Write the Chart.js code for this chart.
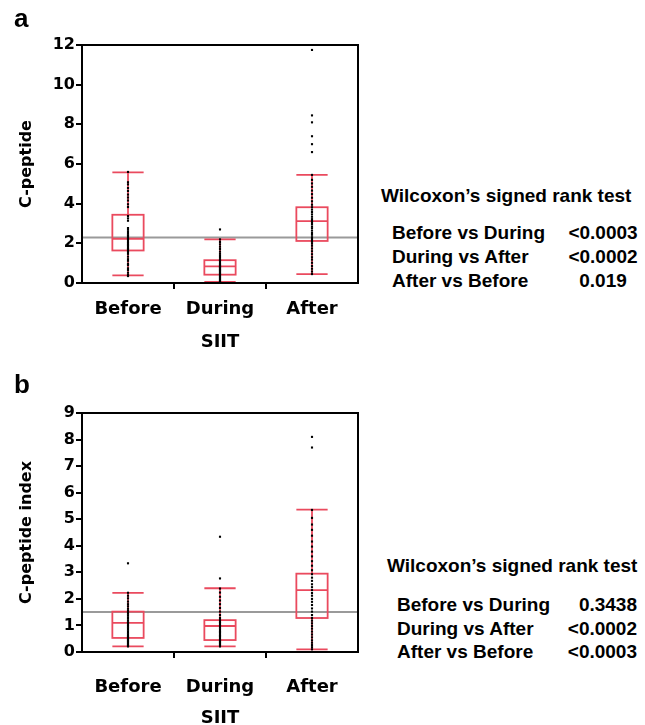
<!DOCTYPE html>
<html>
<head>
<meta charset="utf-8">
<script src="https://cdn.jsdelivr.net/npm/chart.js@4/dist/chart.umd.min.js"></script>
<style>
  body { margin: 0; background: #fff; width: 645px; height: 725px; position: relative; overflow: hidden; }
  canvas { position: absolute; left: 0; }
  .txt { position: absolute; font-family: "Liberation Sans", Arial, sans-serif; font-weight: bold; color: #000; line-height: 1; white-space: nowrap; }
  .panel { font-size: 26px; }
  .st { font-size: 19px; }
</style>
</head>
<body>
<canvas id="chartA" width="362" height="360" style="top:0"></canvas>
<canvas id="chartB" width="362" height="360" style="top:365px"></canvas>
<div id="labels"></div>
<script>
const groups = ['Before', 'During', 'After'];

// panel a: C-peptide
const yTicksA = [0, 2, 4, 6, 8, 10, 12];
const aBefore = [0.35, 0.41, 0.52, 0.66, 0.74, 0.9, 0.97, 1.12, 1.2, 1.33, 1.47, 1.56, 1.64, 1.71, 1.77, 1.86, 1.93, 1.99, 2.07, 2.16, 2.21, 2.27, 2.36, 2.41, 2.49, 2.57, 2.68, 2.77, 3.14, 3.26, 3.38, 3.83, 3.97, 4.16, 4.31, 4.46, 4.64, 4.79, 4.97, 5.08, 5.6];
const aDuring = [0.02, 0.04, 0.08, 0.11, 0.17, 0.21, 0.26, 0.31, 0.34, 0.39, 0.44, 0.48, 0.53, 0.58, 0.63, 0.66, 0.71, 0.76, 0.8, 0.83, 0.87, 0.93, 0.97, 1.03, 1.09, 1.14, 1.18, 1.27, 1.36, 1.47, 1.58, 1.71, 1.83, 1.95, 2.07, 2.2, 2.7];
const aAfter = [0.45, 0.58, 0.72, 0.86, 1.02, 1.18, 1.3, 1.45, 1.6, 1.74, 1.88, 1.99, 2.08, 2.14, 2.22, 2.31, 2.43, 2.52, 2.64, 2.76, 2.85, 2.97, 3.06, 3.13, 3.22, 3.34, 3.46, 3.58, 3.7, 3.82, 3.95, 4.12, 4.3, 4.48, 4.66, 4.85, 5.02, 5.2, 5.45, 6.6, 7.0, 7.4, 8.1, 8.45, 11.75];
const aWhiskLow = [0.38, 0.05, 0.45];
const aQ1 = [1.64, 0.42, 2.12];
const aMedian = [2.23, 0.84, 3.12];
const aQ3 = [3.44, 1.15, 3.82];
const aWhiskHigh = [5.58, 2.2, 5.45];
const aRefLine = 2.3;

// panel b: C-peptide index
const yTicksB = [0, 1, 2, 3, 4, 5, 6, 7, 8, 9];
const bBefore = [0.21, 0.24, 0.28, 0.31, 0.35, 0.39, 0.42, 0.46, 0.5, 0.53, 0.57, 0.61, 0.66, 0.72, 0.78, 0.84, 0.9, 0.96, 1.02, 1.08, 1.12, 1.18, 1.25, 1.31, 1.38, 1.44, 1.5, 1.56, 1.63, 1.72, 1.8, 1.9, 2.02, 2.12, 2.23, 3.34];
const bDuring = [0.21, 0.25, 0.29, 0.33, 0.37, 0.41, 0.45, 0.5, 0.55, 0.6, 0.65, 0.7, 0.75, 0.8, 0.86, 0.92, 0.98, 1.03, 1.08, 1.13, 1.2, 1.28, 1.39, 1.52, 1.66, 1.8, 1.94, 2.08, 2.24, 2.39, 2.77, 4.34];
const bAfter = [0.1, 0.18, 0.26, 0.35, 0.44, 0.55, 0.66, 0.77, 0.88, 0.98, 1.08, 1.18, 1.28, 1.39, 1.52, 1.64, 1.77, 1.89, 2.0, 2.12, 2.22, 2.33, 2.44, 2.55, 2.68, 2.8, 2.93, 3.08, 3.25, 3.42, 3.6, 3.78, 3.97, 4.16, 4.38, 4.6, 4.8, 5.05, 5.35, 7.7, 8.1];
const bWhiskLow = [0.21, 0.21, 0.1];
const bQ1 = [0.53, 0.45, 1.28];
const bMedian = [1.1, 0.98, 2.33];
const bQ3 = [1.52, 1.2, 2.95];
const bWhiskHigh = [2.23, 2.4, 5.36];
const bRefLine = 1.51;

// statistics text
const testTitle = 'Wilcoxon\u2019s signed rank test';
const tests = ['Before vs During', 'During vs After', 'After vs Before'];
const pA = ['<0.0003', '<0.0002', '0.019'];
const pB = ['0.3438', '<0.0002', '<0.0003'];

const RED = '#ea4a5e';

const boxPlugin = {
  id: 'boxes',
  beforeDatasetsDraw(chart) {
    const { ctx, chartArea, scales: { x, y } } = chart;
    const st = chart.options.plugins.boxes;
    ctx.save();
    // reference line
    ctx.strokeStyle = '#9a9a9a';
    ctx.lineWidth = 2;
    ctx.beginPath();
    ctx.moveTo(chartArea.left, y.getPixelForValue(st.ref));
    ctx.lineTo(chartArea.right, y.getPixelForValue(st.ref));
    ctx.stroke();
    // boxes
    const half = (x.getPixelForValue(1) - x.getPixelForValue(0)) * 0.17;
    ctx.strokeStyle = RED;
    ctx.lineWidth = 1.8;
    groups.forEach((g, i) => {
      const cx = x.getPixelForValue(i);
      const lo = y.getPixelForValue(st.lo[i]);
      const q1 = y.getPixelForValue(st.q1[i]);
      const md = y.getPixelForValue(st.med[i]);
      const q3 = y.getPixelForValue(st.q3[i]);
      const hi = y.getPixelForValue(st.hi[i]);
      ctx.beginPath();
      ctx.moveTo(cx, lo); ctx.lineTo(cx, q1);
      ctx.moveTo(cx, q3); ctx.lineTo(cx, hi);
      ctx.moveTo(cx - half, lo); ctx.lineTo(cx + half, lo);
      ctx.moveTo(cx - half, hi); ctx.lineTo(cx + half, hi);
      ctx.moveTo(cx - half, md); ctx.lineTo(cx + half, md);
      ctx.stroke();
      ctx.strokeRect(cx - half, q3, half * 2, q1 - q3);
    });
    ctx.restore();
  },
  afterDraw(chart) {
    const { ctx, chartArea } = chart;
    ctx.save();
    ctx.strokeStyle = '#000';
    ctx.lineWidth = 2;
    ctx.strokeRect(chartArea.left, chartArea.top, chartArea.right - chartArea.left, chartArea.bottom - chartArea.top);
    ctx.restore();
  }
};

function makePanel(id, opts) {
  const points = [];
  opts.series.forEach((vals, i) => vals.forEach(v => points.push({ x: groups[i], y: v })));
  return new Chart(document.getElementById(id), {
    type: 'line',
    data: {
      labels: groups,
      datasets: [{
        data: points,
        showLine: false,
        pointStyle: 'rect',
        pointRadius: 1.5,
        pointBackgroundColor: '#000',
        pointBorderWidth: 0
      }]
    },
    plugins: [boxPlugin],
    options: {
      responsive: false,
      animation: false,
      events: [],
      layout: { padding: { top: opts.top, right: 2, left: 0, bottom: 0 } },
      plugins: {
        legend: { display: false },
        tooltip: { enabled: false },
        boxes: { ref: opts.ref, lo: opts.lo, q1: opts.q1, med: opts.med, q3: opts.q3, hi: opts.hi }
      },
      scales: {
        x: {
          type: 'category',
          offset: true,
          afterFit: s => { s.height = opts.xHeight; },
          border: { display: false },
          grid: {
            offset: true,
            drawOnChartArea: false,
            tickLength: 6,
            lineWidth: 2,
            color: c => (c.index > 0 && c.index < groups.length) ? '#000' : 'rgba(0,0,0,0)'
          },
          ticks: {
            color: '#000',
            padding: opts.xPad,
            font: { family: 'DejaVu Sans', size: 18, weight: 'bold', lineHeight: 1.2 }
          },
          title: {
            display: true,
            text: 'SIIT',
            color: '#000',
            padding: { top: 0, bottom: opts.titlePad },
            font: { family: 'DejaVu Sans', size: 18, weight: 'bold', lineHeight: 1 }
          }
        },
        y: {
          min: 0,
          max: opts.yTicks[opts.yTicks.length - 1],
          afterBuildTicks: s => { s.ticks = opts.yTicks.map(v => ({ value: v })); },
          afterFit: s => { s.width = 82; },
          border: { display: false },
          grid: { drawOnChartArea: false, tickLength: 6, lineWidth: 2, color: '#000' },
          ticks: {
            color: '#000',
            padding: 1,
            font: { family: 'DejaVu Sans', size: 16, weight: 'bold' }
          },
          title: {
            display: true,
            text: opts.yTitle,
            color: '#000',
            padding: { top: 19, bottom: 0 },
            font: { family: 'DejaVu Sans', size: 16, weight: 'bold', lineHeight: 1 }
          }
        }
      }
    }
  });
}

makePanel('chartA', {
  series: [aBefore, aDuring, aAfter],
  lo: aWhiskLow, q1: aQ1, med: aMedian, q3: aQ3, hi: aWhiskHigh, ref: aRefLine,
  yTicks: yTicksA, yTitle: 'C-peptide',
  top: 45, xHeight: 77, xPad: 10, titlePad: 9
});

makePanel('chartB', {
  series: [bBefore, bDuring, bAfter],
  lo: bWhiskLow, q1: bQ1, med: bMedian, q3: bQ3, hi: bWhiskHigh, ref: bRefLine,
  yTicks: yTicksB, yTitle: 'C-peptide index',
  top: 48, xHeight: 73, xPad: 19, titlePad: -2
});

// text blocks on the right + panel letters
const holder = document.getElementById('labels');
function addText(cls, text, left, top, extra) {
  const d = document.createElement('div');
  d.className = 'txt ' + cls;
  d.textContent = text;
  d.style.left = left + 'px';
  d.style.top = top + 'px';
  if (extra) Object.assign(d.style, extra);
  holder.appendChild(d);
}
addText('panel', 'a', 14, 5);
addText('panel', 'b', 14, 371);

addText('st', testTitle, 381, 186);
tests.forEach((t, i) => {
  const top = 223 + i * 24;
  addText('st', t, 392, top);
  addText('st', pA[i], 553, top, { width: '100px', textAlign: 'center' });
});
addText('st', testTitle, 387, 556);
tests.forEach((t, i) => {
  const top = 595 + i * 23.5;
  addText('st', t, 397, top);
  addText('st', pB[i], 537, top, { width: '100px', textAlign: 'right' });
});
</script>
</body>
</html>
